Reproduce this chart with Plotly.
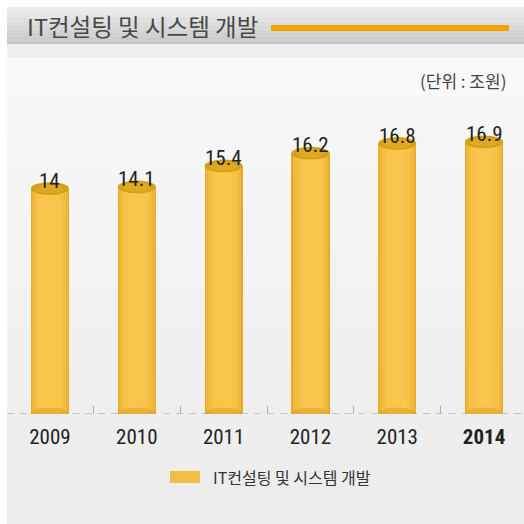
import plotly.graph_objects as go

years = ["2009", "2010", "2011", "2012", "2013", "2014"]
values = [14, 14.1, 15.4, 16.2, 16.8, 16.9]
value_labels = ["14", "14.1", "15.4", "16.2", "16.8", "16.9"]
title_text = "IT컨설팅 및 시스템 개발"
unit_text = "(단위 : 조원)"

W, H = 524, 524
M_L, M_R, M_T, M_B = 7, 0, 60, 110
PLOT_H = H - M_T - M_B

KR = "Noto Sans CJK KR, sans-serif"
NUM = "Roboto Condensed, Roboto, sans-serif"


def py(p):
    # pixel row -> paper y
    return (H - M_B - p) / PLOT_H


def px_(p):
    return (p - M_L) / (W - M_L - M_R)


x = list(range(len(years)))
bar_w = 0.44
ell_h = 0.8

fig = go.Figure()

# cylinder body, layered to fake a horizontal gradient
layers = [(0.44, "#e6aa2c"), (0.41, "#eeb536"), (0.36, "#f3bd41"),
          (0.29, "#f6c247"), (0.2, "#f8c64d")]
for w, c in layers:
    fig.add_trace(go.Bar(x=x, y=values, width=w, marker_color=c,
                         marker_line_width=0, hoverinfo="skip", showlegend=False))

shapes = []

# panel background
shapes.append(dict(type="rect", xref="paper", yref="paper", x0=0, x1=1,
                   y0=py(H), y1=py(7), fillcolor="#efefef", line_width=0, layer="below"))
n = 12
top, bot = 58, H
for i in range(n):
    a = top + (bot - top) * i / n
    b = top + (bot - top) * (i + 1) / n
    g = int(249 - (249 - 236) * i / (n - 1))
    shapes.append(dict(type="rect", xref="paper", yref="paper", x0=0, x1=1,
                       y0=py(b), y1=py(a), fillcolor=f"rgb({g},{g},{g})",
                       line_width=0, layer="below"))
# title bar
n = 10
top, bot = 7, 44
for i in range(n):
    a = top + (bot - top) * i / n
    b = top + (bot - top) * (i + 1) / n
    g = int(236 - (236 - 200) * i / (n - 1))
    shapes.append(dict(type="rect", xref="paper", yref="paper", x0=0, x1=1,
                       y0=py(b), y1=py(a), fillcolor=f"rgb({g},{g},{g})",
                       line_width=0, layer="below"))
shapes.append(dict(type="line", xref="paper", yref="paper", x0=px_(271), x1=px_(509),
                   y0=py(28), y1=py(28), line=dict(color="#f5a300", width=6), layer="below"))

# dashed baseline
shapes.append(dict(type="line", xref="paper", yref="y", x0=0, x1=1, y0=0, y1=0,
                   line=dict(color="#a0a0a0", width=1, dash="7px,6px"), layer="below"))

# cylinder ends
for xi, v in zip(x, values):
    shapes.append(dict(type="circle", xref="x", yref="y",
                       x0=xi - bar_w / 2, x1=xi + bar_w / 2,
                       y0=-ell_h / 2, y1=ell_h / 2,
                       fillcolor="rgba(214,156,30,0.45)", line_width=0))
    shapes.append(dict(type="circle", xref="x", yref="y",
                       x0=xi - bar_w / 2, x1=xi + bar_w / 2,
                       y0=v - ell_h / 2, y1=v + ell_h / 2,
                       fillcolor="#d6a017", line_width=0))
    shapes.append(dict(type="circle", xref="x", yref="y",
                       x0=xi - bar_w * 0.36, x1=xi + bar_w * 0.36,
                       y0=v - ell_h * 0.34, y1=v + ell_h * 0.3,
                       fillcolor="#ddaa22", line_width=0))

# legend swatch
shapes.append(dict(type="rect", xref="paper", yref="paper", x0=px_(170), x1=px_(200),
                   y0=py(483), y1=py(471), fillcolor="#f2bd44", line_width=0))

annotations = [
    dict(xref="paper", yref="paper", x=px_(25), y=py(26), text=title_text,
         showarrow=False, xanchor="left", yanchor="middle",
         font=dict(family=KR, size=23.5, color="#484848")),
    dict(xref="paper", yref="paper", x=px_(508), y=py(80), text=unit_text,
         showarrow=False, xanchor="right", yanchor="middle",
         font=dict(family=KR, size=17, color="#444444")),
    dict(xref="paper", yref="paper", x=px_(211), y=py(477), text=title_text,
         showarrow=False, xanchor="left", yanchor="middle",
         font=dict(family=KR, size=16, color="#333333")),
]
for xi, v, t in zip(x, values, value_labels):
    annotations.append(dict(x=xi, y=v, text=t, showarrow=False, yanchor="bottom",
                            yshift=-6, font=dict(family=NUM, size=21, color="#222222")))

ticktext = years[:-1] + ["<b>" + years[-1] + "</b>"]

fig.update_layout(
    width=W, height=H,
    margin=dict(l=M_L, r=M_R, t=M_T, b=M_B, pad=0),
    paper_bgcolor="white", plot_bgcolor="rgba(0,0,0,0)",
    barmode="overlay", bargap=0,
    shapes=shapes, annotations=annotations,
    showlegend=False,
    xaxis=dict(range=[-0.495, 5.46], tickvals=x, ticktext=ticktext,
               tickfont=dict(family=NUM, size=21, color="#222222"),
               ticks="", showgrid=False, zeroline=False, showline=False,
               ticklabelstandoff=8,
               minor=dict(tickmode="linear", tick0=-0.5, dtick=1, ticks="inside",
                          ticklen=8, tickcolor="#b0b0b0", tickwidth=1, showgrid=False)),
    yaxis=dict(range=[0, PLOT_H / 16.1], showgrid=False, zeroline=False,
               showticklabels=False, ticks=""),
)

fig.write_html("out.html", config={"displayModeBar": False},
               post_script="document.body.style.margin='0';")
